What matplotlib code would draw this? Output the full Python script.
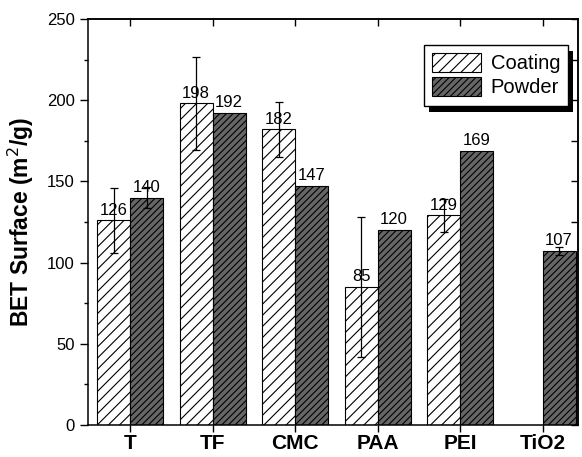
import numpy as np
import matplotlib
matplotlib.use("Agg")
import matplotlib.pyplot as plt
from matplotlib.patches import Rectangle
from matplotlib.transforms import IdentityTransform

plt.rcParams["font.family"] = ["Liberation Sans", "DejaVu Sans"]
plt.rcParams["hatch.linewidth"] = 0.8

categories = ["T", "TF", "CMC", "PAA", "PEI", "TiO2"]
coating = [126, 198, 182, 85, 129, np.nan]
coating_err = [20, 28.5, 17, 43, 10, 0]
powder = [140, 192, 147, 120, 169, 107]
powder_err = [6.5, 0, 0, 0, 0, 2.5]

x = np.arange(len(categories))
w = 0.4

fig = plt.figure(figsize=(5.82, 4.57), dpi=100)
ax = fig.add_axes([0.1512, 0.070, 0.842, 0.8885])

ax.bar(x - w / 2, coating, w, color="white", edgecolor="black",
       hatch="///", linewidth=0.8, label="Coating")
ax.bar(x + w / 2, powder, w, color="#666666", edgecolor="black",
       hatch="/////", linewidth=0.8, label="Powder")

# error bars (only where they exist)
for xs, vals, errs in [(x - w / 2, coating, coating_err), (x + w / 2, powder, powder_err)]:
    for xi, v, e in zip(xs, vals, errs):
        if np.isnan(v) or e == 0:
            continue
        ax.errorbar(xi, v, yerr=e, fmt="none", ecolor="black",
                    elinewidth=0.9, capsize=3.2, capthick=0.9, zorder=3)

# value labels
for xs, vals in [(x - w / 2, coating), (x + w / 2, powder)]:
    for xi, v in zip(xs, vals):
        if np.isnan(v):
            continue
        ax.annotate(f"{v:.0f}", (xi, v), xytext=(0, 2), textcoords="offset points",
                    ha="center", va="bottom", fontsize=12, zorder=4)

ax.set_xlim(-0.51, 5.43)
ax.set_ylim(0, 250)
ax.set_xticks(x)
ax.set_xticklabels(categories, fontsize=15, fontweight="bold")
ax.set_yticks(np.arange(0, 251, 50))
ax.set_yticks(np.arange(0, 251, 25), minor=True)
ax.tick_params(axis="y", which="major", direction="out", length=6, width=1, labelsize=12)
ax.tick_params(axis="y", which="minor", direction="out", length=3, width=1)
ax.tick_params(axis="x", which="major", direction="out", length=5, width=1, pad=1.5)
ax.set_ylabel("BET Surface (m$^2$/g)", fontsize=16.5, fontweight="bold", labelpad=8)
for s in ax.spines.values():
    s.set_linewidth(1.1)

# right and top axes with inward ticks
axr = ax.secondary_yaxis("right")
axr.set_yticks(np.arange(0, 251, 25))
axr.tick_params(direction="in", length=5, width=1, labelright=False)
axr.spines["right"].set_linewidth(1.1)
axt = ax.secondary_xaxis("top")
axt.set_xticks(x)
axt.tick_params(direction="in", length=5, width=1, labeltop=False)
axt.spines["top"].set_linewidth(1.1)

leg = ax.legend(loc="upper right", bbox_to_anchor=(0.98, 0.936), fontsize=14.5,
                frameon=True, fancybox=False, framealpha=1, edgecolor="black",
                handlelength=2.4, handleheight=1.05, handletextpad=0.5,
                borderpad=0.4, labelspacing=0.2, borderaxespad=0)
leg.get_frame().set_linewidth(1.0)
leg.set_zorder(6)

# hard black drop shadow behind the legend box
fig.canvas.draw()
bb = leg.get_frame().get_window_extent()
shadow = Rectangle((bb.x0 + 5, bb.y0 - 6), bb.width, bb.height,
                   transform=IdentityTransform(), facecolor="black",
                   edgecolor="none", zorder=5.5, clip_on=False)
ax.add_artist(shadow)

fig.savefig("out.png", dpi=100)
